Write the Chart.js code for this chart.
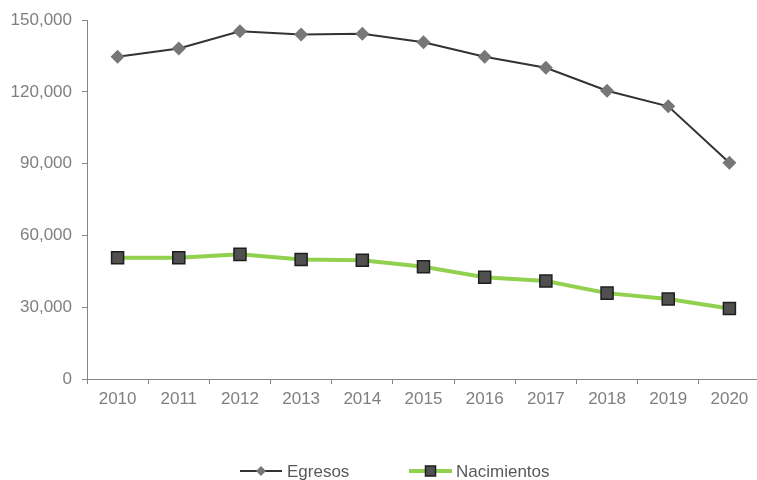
<!DOCTYPE html>
<html>
<head>
<meta charset="utf-8">
<script src="https://cdn.jsdelivr.net/npm/chart.js@4"></script>
<style>
  html, body { margin: 0; padding: 0; background: #fff; overflow: hidden; }
  canvas { display: block; }
</style>
</head>
<body>
<canvas id="c" width="760" height="480" style="width:760px;height:480px"></canvas>
<script>
const categories = ['2010','2011','2012','2013','2014','2015','2016','2017','2018','2019','2020'];
const egresos = [134700, 138200, 145400, 144000, 144300, 140800, 134700, 130100, 120500, 114000, 90400];
const nacimientos = [50700, 50700, 52100, 50000, 49600, 46900, 42500, 41000, 35900, 33400, 29500];
const yTicks = [0, 30000, 60000, 90000, 120000, 150000];

const FONT = "'Liberation Sans', Arial, sans-serif";
const AXIS = '#868686';

const legendPlugin = {
  id: 'lineLegend',
  afterDraw(chart) {
    const ctx = chart.ctx;
    const y = 471;
    const items = [
      { ds: chart.data.datasets[0], x0: 240, x1: 282, tx: 287 },
      { ds: chart.data.datasets[1], x0: 409, x1: 452, tx: 456 }
    ];
    ctx.save();
    items.forEach((it) => {
      const ds = it.ds;
      ctx.beginPath();
      ctx.strokeStyle = ds.borderColor;
      ctx.lineWidth = ds.borderWidth;
      ctx.moveTo(it.x0, y);
      ctx.lineTo(it.x1, y);
      ctx.stroke();
      const cx = (it.x0 + it.x1) / 2;
      ctx.fillStyle = ds.pointBackgroundColor;
      ctx.strokeStyle = ds.pointBorderColor;
      ctx.lineWidth = ds.pointBorderWidth;
      if (ds.pointStyle === 'rectRot') {
        const r = 5;
        ctx.beginPath();
        ctx.moveTo(cx, y - r); ctx.lineTo(cx + r, y); ctx.lineTo(cx, y + r); ctx.lineTo(cx - r, y); ctx.closePath();
        ctx.fill();
      } else {
        const h = 5;
        ctx.fillRect(cx - h, y - h, 2 * h, 2 * h);
        ctx.strokeRect(cx - h, y - h, 2 * h, 2 * h);
      }
      ctx.fillStyle = '#595959';
      ctx.font = "17px " + FONT;
      ctx.textBaseline = 'middle';
      ctx.textAlign = 'left';
      ctx.fillText(ds.label, it.tx, y + 1);
    });
    ctx.restore();
  }
};

new Chart(document.getElementById('c'), {
  type: 'line',
  data: {
    labels: categories,
    datasets: [
      {
        label: 'Egresos',
        data: egresos,
        borderColor: '#333333',
        borderWidth: 2,
        pointStyle: 'rectRot',
        pointRadius: 7,
        pointHoverRadius: 7,
        pointBackgroundColor: '#777777',
        pointBorderColor: '#777777',
        pointBorderWidth: 0,
        tension: 0
      },
      {
        label: 'Nacimientos',
        data: nacimientos,
        borderColor: '#92D050',
        borderWidth: 4,
        pointStyle: 'rect',
        pointRadius: 8.5,
        pointHoverRadius: 8.5,
        pointBackgroundColor: '#505050',
        pointBorderColor: '#1e1e1e',
        pointBorderWidth: 1.5,
        tension: 0
      }
    ]
  },
  options: {
    responsive: false,
    maintainAspectRatio: false,
    animation: false,
    devicePixelRatio: 1,
    layout: { autoPadding: false, padding: { top: 20, right: 0, bottom: 0, left: 0 } },
    plugins: { legend: { display: false }, tooltip: { enabled: false } },
    scales: {
      x: {
        offset: true,
        grid: { offset: true, drawOnChartArea: false, drawTicks: true, tickLength: 5, color: AXIS },
        border: { color: AXIS, width: 1 },
        ticks: { color: '#7f7f7f', font: { family: FONT, size: 17 }, padding: 5, maxRotation: 0, autoSkip: false },
        afterFit: s => { s.height = 101; s.paddingRight = 0; s.paddingLeft = 0; }
      },
      y: {
        min: 0,
        max: 150000,
        afterBuildTicks: s => { s.ticks = yTicks.map(v => ({ value: v })); },
        grid: { drawOnChartArea: false, drawTicks: true, tickLength: 5, color: AXIS },
        border: { color: AXIS, width: 1 },
        ticks: {
          color: '#7f7f7f',
          font: { family: FONT, size: 17 },
          padding: 10,
          callback: v => v.toLocaleString('en-US')
        },
        afterFit: s => { s.width = 87; }
      }
    }
  },
  plugins: [legendPlugin]
});
</script>
</body>
</html>
